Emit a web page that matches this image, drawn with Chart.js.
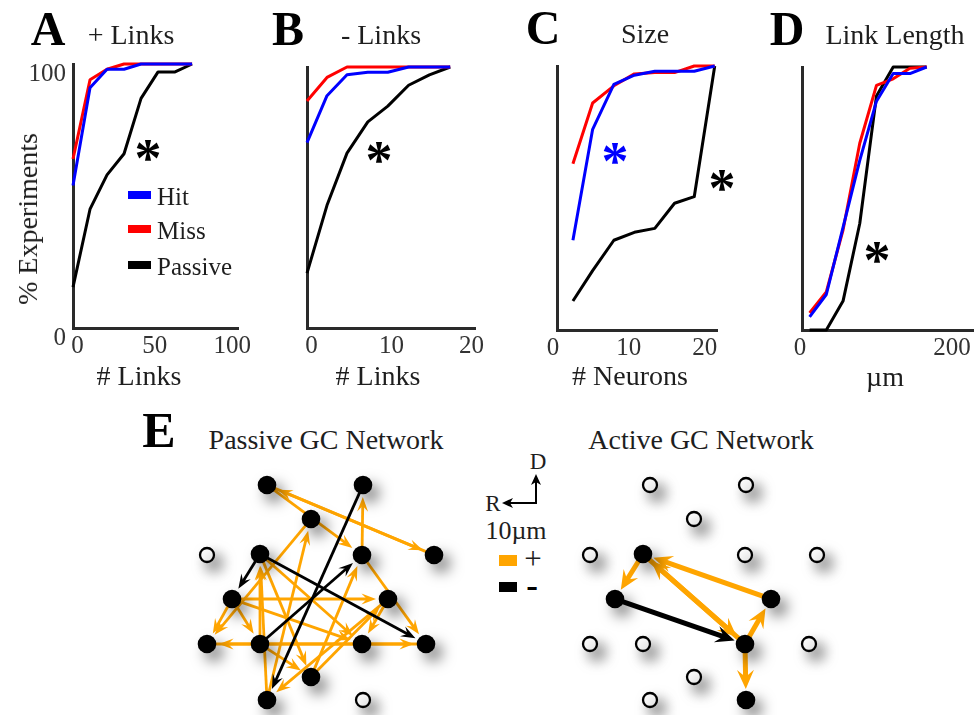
<!DOCTYPE html>
<html><head><meta charset="utf-8"><title>GC network statistics</title>
<script src="https://cdn.jsdelivr.net/npm/chart.js@4.4.1/dist/chart.umd.min.js"></script>
<style>
html,body{margin:0;padding:0;background:#fff}
#page{position:relative;width:977px;height:715px;overflow:hidden;font-family:'Liberation Serif','Times New Roman',serif;color:#1e1e1e}
canvas{position:absolute}
.t{position:absolute;white-space:nowrap;line-height:1;transform:translate(-50%,-50%)}
.tl{position:absolute;white-space:nowrap;line-height:1;transform:translate(0,-50%)}
.L{font-weight:bold;font-size:48px;color:#000}
.h{font-size:28px}
.ast{font-weight:bold;font-size:54px;color:#000}
.sw{position:absolute}
</style></head>
<body><div id="page">
<canvas id="cA" width="250" height="400" style="left:0;top:0"></canvas>
<canvas id="cB" width="250" height="400" style="left:250px;top:0"></canvas>
<canvas id="cC" width="230" height="400" style="left:510px;top:0"></canvas>
<canvas id="cD" width="222" height="400" style="left:755px;top:0"></canvas>
<canvas id="cP" width="290" height="260" style="left:180px;top:455px"></canvas>
<canvas id="cQ" width="290" height="260" style="left:563px;top:455px"></canvas>

<div class="t L" style="left:48px;top:29px">A</div>
<div class="t h" style="left:131px;top:35px">+ Links</div>
<div class="t L" style="left:288px;top:29px">B</div>
<div class="t h" style="left:381px;top:35px">- Links</div>
<div class="t L" style="left:543px;top:28px">C</div>
<div class="t h" style="left:645px;top:34px">Size</div>
<div class="t L" style="left:787px;top:29px">D</div>
<div class="t h" style="left:895px;top:35px">Link Length</div>

<div class="t h" style="left:28px;top:219px;transform:translate(-50%,-50%) rotate(-90deg)">% Experiments</div>
<div class="t h" style="left:139px;top:376px"># Links</div>
<div class="t h" style="left:378px;top:376px"># Links</div>
<div class="t h" style="left:630px;top:376px"># Neurons</div>
<div class="t h" style="left:885px;top:377px">µm</div>

<div class="sw" style="left:128px;top:191px;width:23px;height:8px;background:#0000ff"></div>
<div class="sw" style="left:128px;top:225px;width:23px;height:8px;background:#ff0000"></div>
<div class="sw" style="left:128px;top:261px;width:23px;height:8px;background:#000"></div>
<div class="tl" style="left:157px;top:196px;font-size:25px">Hit</div>
<div class="tl" style="left:157px;top:230px;font-size:25px">Miss</div>
<div class="tl" style="left:157px;top:266px;font-size:25px">Passive</div>

<div class="t ast" style="left:148px;top:158px">*</div>
<div class="t ast" style="left:379px;top:160px">*</div>
<div class="t ast" style="left:615px;top:161px;color:#0000ff">*</div>
<div class="t ast" style="left:722px;top:188px">*</div>
<div class="t ast" style="left:877px;top:260px">*</div>

<div class="t L" style="left:159px;top:430px;font-size:50px">E</div>
<div class="t h" style="left:326px;top:440px">Passive GC Network</div>
<div class="t h" style="left:701px;top:440px">Active GC Network</div>

<div class="t" style="left:538px;top:461px;font-size:23px">D</div>
<div class="t" style="left:493px;top:503px;font-size:23px">R</div>
<svg style="position:absolute;left:480px;top:450px" width="80" height="70">
  <line x1="56" y1="53" x2="56" y2="31" stroke="#000" stroke-width="2"/>
  <path d="M56 24 L61 35 L56 32 L51 35 Z" fill="#000"/>
  <line x1="57" y1="53" x2="29" y2="53" stroke="#000" stroke-width="2"/>
  <path d="M22 53 L33 48 L30 53 L33 58 Z" fill="#000"/>
</svg>
<div class="t" style="left:516px;top:531px;font-size:26px">10µm</div>
<div class="sw" style="left:499px;top:555px;width:18px;height:11px;background:#ffa500"></div>
<div class="sw" style="left:499px;top:582px;width:18px;height:10px;background:#000"></div>
<div class="t" style="left:533px;top:558px;font-size:31px">+</div>
<div class="t" style="left:532px;top:585px;font-size:35px;font-weight:bold;color:#000">-</div>
</div>
<script>
const serif = "'Liberation Serif','Times New Roman',serif";

// ---- Panel A: + Links ----
const linksA   = [0, 11, 22, 33, 44, 55, 66, 77];
const hitA     = [54, 91, 98, 98, 100, 100, 100, 100];
const missA    = [64, 94, 98, 100, 100, 100, 100, 100];
const passiveA = [15.5, 45, 58, 66, 87, 97, 97, 100];
const xTicksA  = [0, 50, 100];

// ---- Panel B: - Links ----
const linksB   = [0, 2.5, 5, 7.6, 10.1, 12.7, 15.3, 17.9];
const hitB     = [71, 89, 97, 98, 98, 100, 100, 100];
const missB    = [87, 96, 100, 100, 100, 100, 100, 100];
const passiveB = [21, 47, 67, 79, 85, 93, 97, 100];
const xTicksB  = [0, 10, 20];

// ---- Panel C: Size (# Neurons) ----
const neuronsC = [2.1, 4.7, 7.5, 10.2, 12.9, 15.5, 18.1, 20.8];
const hitC     = [34, 76, 93, 96.5, 98, 98, 98, 100];
const missC    = [63, 86, 92.5, 97, 97.5, 97.5, 100, 100];
const passiveC = [11, 22.5, 34, 37, 38.5, 48, 50.5, 100];
const xTicksC  = [0, 10, 20];

// ---- Panel D: Link Length (µm) ----
const lengthD  = [10, 32, 54, 76, 98, 120, 142, 164];
const hitD     = [5, 13.5, 39, 64.5, 87, 97.5, 97.5, 100];
const missD    = [6.5, 14.5, 38, 71, 93, 95.5, 99.5, 100];
const passiveD = [0, 0, 11, 40.5, 89, 100, 100, 100];
const xTicksD  = [0, 200];

const yTicks = [0, 100];

// ---- Panel E: network nodes (grid positions, same layout for both networks) ----
const nodeX = [60, 156, 104, 0, 53, 155, 227, 25, 181, 0, 53, 155, 219, 104, 60, 156];
const nodeY = [215, 215, 181, 145, 146, 145, 145, 101, 101, 56, 56, 56, 56, 23, 0, 0];
const passiveOn = [1,1,1,0,1,1,1,1,1,1,1,1,1,1,1,0];
const activeOn  = [0,0,0,0,1,0,0,1,1,0,0,1,0,0,0,1];
// edges (node index, 0-based): + links (orange) and - links (black)
const passivePlusFrom  = [6,0,0,5,5,7,7,7,7,9,12,10,4,4,2,14,10,13,8,8,14,13];
const passivePlusTo    = [0,6,5,1,12,8,9,10,11,12,9,4,13,11,9,2,13,5,14,11,4,8];
const passiveMinusFrom = [1,10,4,4];
const passiveMinusTo   = [14,5,12,7];
const activePlusFrom   = [4,4,11,8,11,11];
const activePlusTo     = [7,11,4,4,8,15];
const activeMinusFrom  = [7];
const activeMinusTo    = [11];

function pts(xs, ys){ return xs.map((v,i)=>({x:v, y:ys[i]})); }

function makeCDF(id, o){
  const border = {display:true, color:'#2a2a2a', width:3};
  new Chart(document.getElementById(id), {
    type:'line',
    data:{datasets:[
      {label:'Hit', data:pts(o.x,o.hit), borderColor:'#0000ff'},
      {label:'Miss', data:pts(o.x,o.miss), borderColor:'#ff0000'},
      {label:'Passive', data:pts(o.x,o.passive), borderColor:'#000000'}
    ]},
    options:{
      responsive:false, animation:false, events:[],
      layout:{padding:o.pad},
      elements:{line:{borderWidth:3, tension:0, fill:false, borderJoinStyle:'round'}, point:{radius:0}},
      datasets:{line:{clip:false}},
      plugins:{legend:{display:false}, tooltip:{enabled:false}},
      scales:{
        x:{type:'linear', min:o.xmin, max:o.xmax,
           grid:{display:false, drawTicks:false}, border:border,
           ticks:{font:{family:serif,size:25}, color:'#333', padding:3, labelOffset:o.lo, maxRotation:0, autoSkip:false},
           afterBuildTicks:s=>{ s.ticks = o.xt.map(v=>({value:v})); },
           afterFit:s=>{ s.height = o.xh; }},
        y:{type:'linear', min:0, max:100,
           grid:{display:false, drawTicks:false}, border:border,
           ticks:{display:!!o.yl, font:{family:serif,size:25}, color:'#333', padding:7, labelOffset:10},
           afterBuildTicks:s=>{ s.ticks = yTicks.map(v=>({value:v})); },
           afterFit:s=>{ s.width = o.yw; }}
      }
    }
  });
}

makeCDF('cA',{x:linksA,hit:hitA,miss:missA,passive:passiveA,xt:xTicksA,xmin:0,xmax:107,lo:4.5,yl:true,
  yw:73,xh:72,pad:{left:0,top:64,right:9,bottom:0}});
makeCDF('cB',{x:linksB,hit:hitB,miss:missB,passive:passiveB,xt:xTicksB,xmin:0,xmax:21,lo:4.5,yl:false,
  yw:57,xh:72,pad:{left:0,top:67,right:25,bottom:0}});
makeCDF('cC',{x:neuronsC,hit:hitC,miss:missC,passive:passiveC,xt:xTicksC,xmin:0,xmax:21.1,lo:-4,yl:false,
  yw:47,xh:70,pad:{left:0,top:66,right:23,bottom:0}});
makeCDF('cD',{x:lengthD,hit:hitD,miss:missD,passive:passiveD,xt:xTicksD,xmin:0,xmax:225,lo:-2,yl:false,
  yw:47,xh:70,pad:{left:0,top:67,right:4,bottom:0}});

function drawArrow(ctx,x1,y1,x2,y2,color,lw,hl,hw,g1,g2){
  const dx=x2-x1, dy=y2-y1, L=Math.hypot(dx,dy), ux=dx/L, uy=dy/L, px=-uy, py=ux;
  const sx=x1+ux*g1, sy=y1+uy*g1, tx=x2-ux*g2, ty=y2-uy*g2;
  const bx=tx-ux*hl, by=ty-uy*hl;
  ctx.strokeStyle=color; ctx.fillStyle=color; ctx.lineWidth=lw; ctx.lineCap='butt';
  ctx.beginPath(); ctx.moveTo(sx,sy); ctx.lineTo(bx+ux*hl*0.35, by+uy*hl*0.35); ctx.stroke();
  ctx.beginPath();
  ctx.moveTo(tx,ty);
  ctx.lineTo(bx+px*hw-ux*hl*0.12, by+py*hw-uy*hl*0.12);
  ctx.lineTo(bx+ux*hl*0.3, by+uy*hl*0.3);
  ctx.lineTo(bx-px*hw-ux*hl*0.12, by-py*hw-uy*hl*0.12);
  ctx.closePath(); ctx.fill();
}

function makeNet(id, on, plusFrom, plusTo, minusFrom, minusTo, st){
  const netPlugin = {
    id:'net'+id,
    beforeDatasetsDraw(chart){
      const xs=chart.scales.x, ys=chart.scales.y, ctx=chart.ctx;
      ctx.save();
      const draw=(fr,to,color)=>fr.forEach((a,i)=>{
        const b=to[i];
        drawArrow(ctx, xs.getPixelForValue(nodeX[a]), ys.getPixelForValue(nodeY[a]),
                       xs.getPixelForValue(nodeX[b]), ys.getPixelForValue(nodeY[b]),
                  color, st.lw, st.hl, st.hw, 8, st.gap);
      });
      draw(plusFrom, plusTo, '#ffa500');
      draw(minusFrom, minusTo, '#000000');
      ctx.restore();
    },
    beforeDatasetDraw(chart){
      const ctx=chart.ctx; ctx.save();
      ctx.shadowColor='rgba(0,0,0,0.5)'; ctx.shadowBlur=14; ctx.shadowOffsetX=7; ctx.shadowOffsetY=8;
    },
    afterDatasetDraw(chart){ chart.ctx.restore(); }
  };
  new Chart(document.getElementById(id), {
    type:'scatter',
    data:{datasets:[{
      label:'GC', data:pts(nodeX,nodeY), showLine:false, clip:false,
      pointRadius:on.map(f=>f?9.3:7),
      pointBackgroundColor:on.map(f=>f?'#000':'#fff'),
      pointBorderColor:'#000',
      pointBorderWidth:on.map(f=>f?0:2.3)
    }]},
    options:{
      responsive:false, animation:false, events:[],
      layout:{padding:{left:27,right:36,top:30,bottom:15}},
      plugins:{legend:{display:false}, tooltip:{enabled:false}},
      scales:{x:{type:'linear',display:false,min:0,max:227}, y:{type:'linear',display:false,min:0,max:215}}
    },
    plugins:[netPlugin]
  });
}

makeNet('cP', passiveOn, passivePlusFrom, passivePlusTo, passiveMinusFrom, passiveMinusTo, {lw:2.8,hl:13,hw:5.5,gap:12});
makeNet('cQ', activeOn, activePlusFrom, activePlusTo, activeMinusFrom, activeMinusTo, {lw:5,hl:17,hw:8.5,gap:11});
</script>
</body></html>
